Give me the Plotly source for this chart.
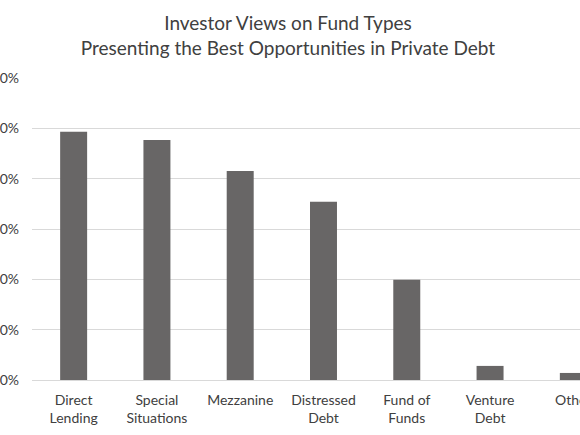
import plotly.graph_objects as go

# datos
categorias = ['Direct<br>Lending', 'Special<br>Situations', 'Mezzanine', 'Distressed<br>Debt',
              'Fund of<br>Funds', 'Venture<br>Debt', 'Other']
porcentajes = [0.493, 0.477, 0.415, 0.354, 0.199, 0.028, 0.014]
ticks_y = [0, 0.1, 0.2, 0.3, 0.4, 0.5, 0.6]

fuente = 'Lato'
gris_texto = '#404040'

fig = go.Figure()
fig.add_trace(go.Bar(
    x=list(range(len(categorias))),
    y=porcentajes,
    marker=dict(color='#686666', line=dict(width=0)),
    showlegend=False,
))

fig.update_layout(
    width=580,
    height=435,
    template='none',
    paper_bgcolor='white',
    plot_bgcolor='white',
    margin=dict(l=32, r=0, t=78, b=55),
    bargap=0.676,
    font=dict(family=fuente, color=gris_texto, size=14),
    title=dict(
        text='Investor Views on Fund Types<br>Presenting the Best Opportunities in Private Debt',
        x=288 / 580,
        xref='container',
        xanchor='center',
        y=0.93,
        yref='container',
        yanchor='top',
        font=dict(family=fuente, size=19, color=gris_texto),
    ),
    xaxis=dict(
        range=[-0.5, 6.08],
        tickmode='array',
        tickvals=list(range(len(categorias))),
        ticktext=categorias,
        showgrid=False,
        showline=False,
        zeroline=False,
        ticks='',
        ticklabelstandoff=10,
        ticklabeloverflow='allow',
        automargin=False,
        tickfont=dict(size=14, color=gris_texto),
    ),
    yaxis=dict(
        range=[0, 0.6],
        tickmode='array',
        tickvals=ticks_y,
        tickformat='.0%',
        showgrid=True,
        gridcolor='#d9d9d9',
        gridwidth=1,
        zeroline=True,
        zerolinecolor='#d9d9d9',
        zerolinewidth=1,
        showline=False,
        ticks='',
        ticklabelstandoff=12,
        ticklabeloverflow='allow',
        automargin=False,
        tickfont=dict(size=14, color=gris_texto),
    ),
)

# quitar el margen por defecto del body para que la figura empiece en (0, 0)
fig.write_html('out.html', config={'displayModeBar': False},
               post_script="document.body.style.margin='0';")
